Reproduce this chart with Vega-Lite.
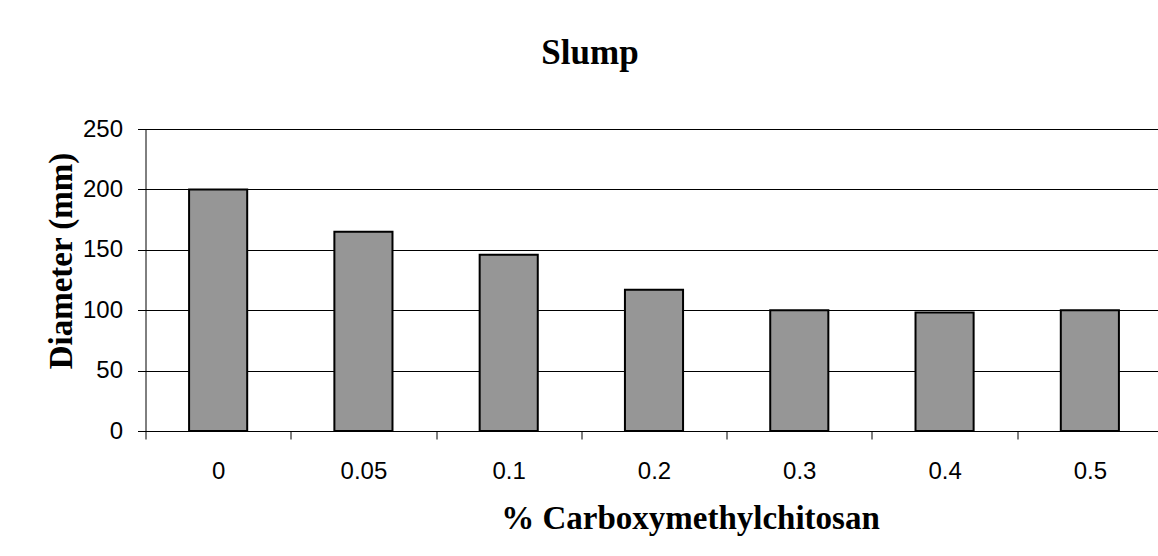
{
  "$schema": "https://vega.github.io/schema/vega-lite/v6.json",
  "autosize": "none",
  "width": 1017,
  "height": 302,
  "padding": {"left": 145.5, "top": 129, "right": 0, "bottom": 125},
  "background": "white",
  "title": {
    "text": "Slump",
    "font": "Liberation Serif",
    "fontWeight": "bold",
    "fontSize": 35,
    "color": "black",
    "anchor": "middle",
    "frame": "group",
    "dx": -64,
    "offset": 46
  },
  "data": {
    "values": [
      {"cmc": "0", "diameter": 200},
      {"cmc": "0.05", "diameter": 165},
      {"cmc": "0.1", "diameter": 146},
      {"cmc": "0.2", "diameter": 117},
      {"cmc": "0.3", "diameter": 100},
      {"cmc": "0.4", "diameter": 98},
      {"cmc": "0.5", "diameter": 100}
    ]
  },
  "mark": {"type": "bar", "fill": "#969696", "stroke": "black", "strokeWidth": 2, "width": {"band": 0.4}},
  "encoding": {
    "x": {
      "field": "cmc",
      "type": "ordinal",
      "sort": null,
      "scale": {"paddingInner": 0, "paddingOuter": 0},
      "axis": {
        "title": "% Carboxymethylchitosan",
        "labelAngle": 0,
        "tickBand": "extent",
        "tickSize": 8,
        "tickColor": "black",
        "domainColor": "black",
        "labelPadding": 20,
        "labelFont": "Liberation Sans",
        "labelFontSize": 24,
        "labelColor": "black",
        "titleFont": "Liberation Serif",
        "titleFontWeight": "bold",
        "titleFontSize": 33,
        "titleColor": "black",
        "titleX": 544.5,
        "titlePadding": 19
      }
    },
    "y": {
      "field": "diameter",
      "type": "quantitative",
      "scale": {"domain": [0, 250], "nice": false},
      "axis": {
        "title": "Diameter (mm)",
        "values": [0, 50, 100, 150, 200, 250],
        "tickSize": 8,
        "tickColor": "black",
        "domainColor": "black",
        "grid": true,
        "gridColor": "black",
        "gridOpacity": 1,
        "labelPadding": 15,
        "labelFont": "Liberation Sans",
        "labelFontSize": 24,
        "labelColor": "black",
        "titleFont": "Liberation Serif",
        "titleFontWeight": "bold",
        "titleFontSize": 33,
        "titleColor": "black",
        "titleY": 131.5,
        "titlePadding": 4
      }
    }
  },
  "config": {"view": {"stroke": null}}
}
